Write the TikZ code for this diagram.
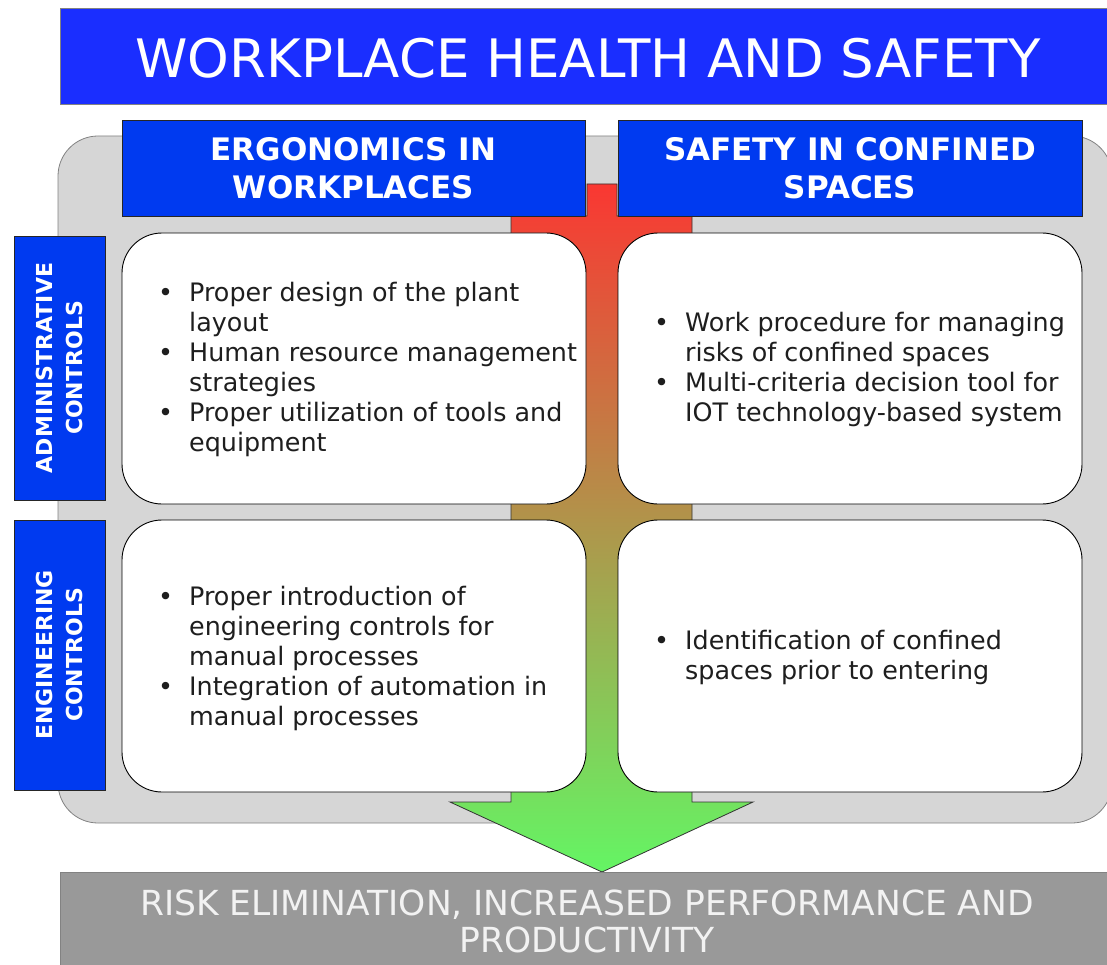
\documentclass[tikz,border=0pt]{standalone}
\usepackage{fontspec}
\setmainfont{DejaVu Sans}
\usepackage{array}
\definecolor{titleblue}{RGB}{26,46,255}
\definecolor{headblue}{RGB}{0,58,240}
\definecolor{bggray}{RGB}{214,214,214}
\definecolor{bggrayline}{RGB}{130,130,130}
\definecolor{botgray}{RGB}{153,153,153}
\definecolor{arrowtop}{RGB}{250,55,50}
\definecolor{arrowbot}{RGB}{100,245,100}
\definecolor{cardtext}{RGB}{30,30,30}
\tikzset{
  headbox/.style={draw=black!85, line width=0.8pt, fill=headblue},
  cardbox/.style={draw=black, line width=0.9pt, fill=white, rounded corners=40pt},
  headtext/.style={text=white, font=\bfseries\fontsize{31}{38}\selectfont, align=center},
  sidetext/.style={text=white, font=\bfseries\fontsize{22}{30}\selectfont, align=center, rotate=90},
  cardtext/.style={text=cardtext, font=\fontsize{25.4}{30}\selectfont, anchor=west, inner sep=0pt},
}
\newcommand{\bul}{\textbullet}
\begin{document}
\begin{tikzpicture}[x=1pt,y=-1pt]
\useasboundingbox (0,0) rectangle (1107,965);
% title
\draw[draw=bggrayline, line width=0.8pt, fill=titleblue] (60,8) rectangle (1118,104);
\node[text=white, font=\fontsize{53}{60}\selectfont] (title) at (588,58) {WORKPLACE HEALTH AND SAFETY};
% gray background
\draw[draw=bggrayline, line width=0.8pt, fill=bggray, rounded corners=40pt] (58,136) rectangle (1112,823);
% arrow
\path[draw=black!80, line width=0.8pt, top color=arrowtop, bottom color=arrowbot]
  (587,184) -- (617,184) -- (617,216) -- (692,216) -- (692,802) -- (753,802)
  -- (602,872) -- (450,802) -- (511,802) -- (511,216) -- (587,216) -- cycle;
% headers
\draw[headbox] (122,120) rectangle (585,216);
\node[headtext] (h1) at (353.5,168) {ERGONOMICS IN\\WORKPLACES};
\draw[headbox] (618,120) rectangle (1082,216);
\node[headtext] (h2) at (850,168) {SAFETY IN CONFINED\\SPACES};
% side labels
\draw[headbox] (14,236) rectangle (105,500);
\node[sidetext] (s1) at (59.5,368) {ADMINISTRATIVE\\CONTROLS};
\draw[headbox] (14,520) rectangle (105,790);
\node[sidetext] (s2) at (59.5,655) {ENGINEERING\\CONTROLS};
% cards
\draw[cardbox] (122,233) rectangle (586,504);
\draw[cardbox] (618,233) rectangle (1082,504);
\draw[cardbox] (122,520) rectangle (586,792);
\draw[cardbox] (618,520) rectangle (1082,792);
\node[cardtext] (c1) at (158,370.5) {\begin{tabular}{@{}p{31pt}@{}l@{}}
\bul & Proper design of the plant\\
 & layout\\
\bul & Human resource management\\
 & strategies\\
\bul & Proper utilization of tools and\\
 & equipment
\end{tabular}};
\node[cardtext] (c2) at (654,370.5) {\begin{tabular}{@{}p{31pt}@{}l@{}}
\bul & Work procedure for managing\\
 & risks of confined spaces\\
\bul & Multi-criteria decision tool for\\
 & IOT technology-based system
\end{tabular}};
\node[cardtext] (c3) at (158,659.5) {\begin{tabular}{@{}p{31pt}@{}l@{}}
\bul & Proper introduction of\\
 & engineering controls for\\
 & manual processes\\
\bul & Integration of automation in\\
 & manual processes
\end{tabular}};
\node[cardtext] (c4) at (654,658) {\begin{tabular}{@{}p{31pt}@{}l@{}}
\bul & Identification of confined\\
 & spaces prior to entering
\end{tabular}};
% bottom box
\draw[draw=bggrayline, line width=0.8pt, fill=botgray] (60,872) rectangle (1116,975);
\node[text=white!95!black, font=\fontsize{34.5}{37}\selectfont, align=center] (bot) at (587,921.5) {RISK ELIMINATION, INCREASED PERFORMANCE AND\\PRODUCTIVITY};
\end{tikzpicture}
\end{document}
